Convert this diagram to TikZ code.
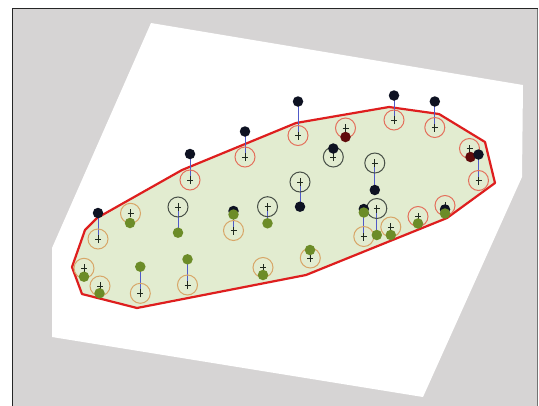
\documentclass[tikz,border=0pt]{standalone}
\pgfdeclarelayer{bg}
\pgfdeclarelayer{lines}
\pgfsetlayers{bg,lines,main}
\definecolor{bggray}{RGB}{214,212,212}
\definecolor{hullfill}{RGB}{226,236,208}
\definecolor{hullred}{RGB}{222,30,30}
\definecolor{ringred}{RGB}{228,112,92}
\definecolor{ringtan}{RGB}{216,166,104}
\definecolor{ringdark}{RGB}{72,80,72}
\definecolor{dotblack}{RGB}{14,18,34}
\definecolor{dotgreen}{RGB}{108,140,40}
\definecolor{dotred}{RGB}{95,10,10}
\definecolor{bluel}{RGB}{80,90,200}
\definecolor{crosscol}{RGB}{30,40,30}
\begin{document}
\begin{tikzpicture}[x=1pt,y=-1pt,
  withcross/.style={path picture={\draw[crosscol,line width=0.9pt]
    (path picture bounding box.center) ++(-3pt,0) -- ++(6pt,0)
    (path picture bounding box.center) ++(0,-4pt) -- ++(0,8pt);}},
  ringbase/.style={circle,line width=1pt,minimum size=20pt,inner sep=0pt,withcross},
  ringR/.style={ringbase,draw=ringred},
  ringT/.style={ringbase,draw=ringtan},
  ringK/.style={ringbase,draw=ringdark},
  dotbase/.style={circle,minimum size=10.5pt,inner sep=0pt},
  dotb/.style={dotbase,fill=dotblack},
  dotg/.style={dotbase,fill=dotgreen},
  dotr/.style={dotbase,fill=dotred},
  bline/.style={draw=bluel,line width=0.8pt}]
\useasboundingbox (0,0) rectangle (539,405);
\begin{pgfonlayer}{bg}
\fill[white] (0,0) rectangle (539,405);
\fill[bggray] (12.5,8.5) rectangle (537.5,406);
\draw[black!85,line width=1.3pt] (12.5,406) -- (12.5,8.5) -- (537.5,8.5);
\draw[black!55,line width=1pt] (537.5,8.5) -- (537.5,406);
\fill[white] (151,23) -- (523,85) -- (522,177) -- (423,397) -- (52,337) -- (52,248) -- cycle;
\filldraw[fill=hullfill,draw=hullred,line width=2.2pt,line join=round]
  (72,267) -- (85,230) -- (97,218) -- (182,170) -- (296,123) -- (389,107) -- (439,114)
  -- (485,142) -- (495,183) -- (447,218) -- (306,275) -- (137,308) -- (82,294) -- cycle;
\end{pgfonlayer}
% rings
\node[ringT] (a1r) at (98,239) {};
\node[ringR] (a2r) at (190,180) {};
\node[ringR] (a3r) at (245,157) {};
\node[ringR] (a4r) at (298,135.5) {};
\node[ringR] (a5r) at (394,120) {};
\node[ringR] (a6r) at (434.8,127.5) {};
\node[ringR] (a7r) at (478.5,180.5) {};
\node[ringR] (a8r) at (469.5,148.5) {};
\node[ringR] (b1r) at (345.5,128) {};
\node[ringK] (c1r) at (333.3,157) {};
\node[ringK] (c2r) at (374.8,163) {};
\node[ringK] (c3r) at (300,182) {};
\node[ringK] (c4r) at (178,207) {};
\node[ringK] (c5r) at (267.5,206.7) {};
\node[ringK] (c6r) at (376.8,208.5) {};
\node[ringT] (d1r) at (130.5,213.3) {};
\node[ringT] (d2r) at (233.5,230.5) {};
\node[ringT] (d3r) at (84,268.3) {};
\node[ringT] (d4r) at (100,286) {};
\node[ringT] (d5r) at (140.3,293.3) {};
\node[ringT] (d6r) at (187.5,285) {};
\node[ringT] (d7r) at (263,267.5) {};
\node[ringT] (d8r) at (310.3,258) {};
\node[ringT] (d9r) at (363.8,236.5) {};
\node[ringT] (d10r) at (390.8,227) {};
\node[ringR] (d11r) at (418,216.5) {};
\node[ringR] (d12r) at (445,205.5) {};
% dots
\node[dotb] (a1d) at (98,213) {};
\node[dotb] (a2d) at (190,154) {};
\node[dotb] (a3d) at (245,131.5) {};
\node[dotb] (a4d) at (298,101.5) {};
\node[dotb] (a5d) at (394,95.5) {};
\node[dotb] (a6d) at (434.8,101.5) {};
\node[dotr] (a8d) at (470.5,157) {};
\node[dotb] (a7d) at (478.5,154.5) {};
\node[dotr] (b1d) at (345.5,137) {};
\node[dotb] (c1d) at (333.3,148.5) {};
\node[dotb] (c2d) at (374.8,190) {};
\node[dotb] (c3d) at (300,206.7) {};
\node[dotg] (c4d) at (178,232.7) {};
\node[dotg] (c5d) at (267.5,223.3) {};
\node[dotg] (c6d) at (376.8,235) {};
\node[dotg] (d1d) at (130,223) {};
\node[dotb] (d2k) at (233.5,211) {};
\node[dotg] (d2d) at (233.5,214.5) {};
\node[dotg] (d3d) at (84,276.7) {};
\node[dotg] (d4d) at (99.5,293.3) {};
\node[dotg] (d5d) at (140.3,266.7) {};
\node[dotg] (d6d) at (187.5,259.3) {};
\node[dotg] (d7d) at (263,275) {};
\node[dotg] (d8d) at (310,250) {};
\node[dotb] (d9k) at (363.8,209) {};
\node[dotg] (d9d) at (363.8,212.5) {};
\node[dotg] (d10d) at (390.8,235) {};
\node[dotg] (d11d) at (418,223.5) {};
\node[dotb] (d12k) at (445,209.5) {};
\node[dotg] (d12d) at (445,213.5) {};
% connectors
\begin{pgfonlayer}{lines}
\foreach \n in {a1,a2,a3,a4,a5,a6,a7,c2,c3,c4,c5,c6,d2,d5,d6,d8,d9}
  \draw[bline] (\n d.center) -- (\n r.center);
\end{pgfonlayer}
\end{tikzpicture}
\end{document}
